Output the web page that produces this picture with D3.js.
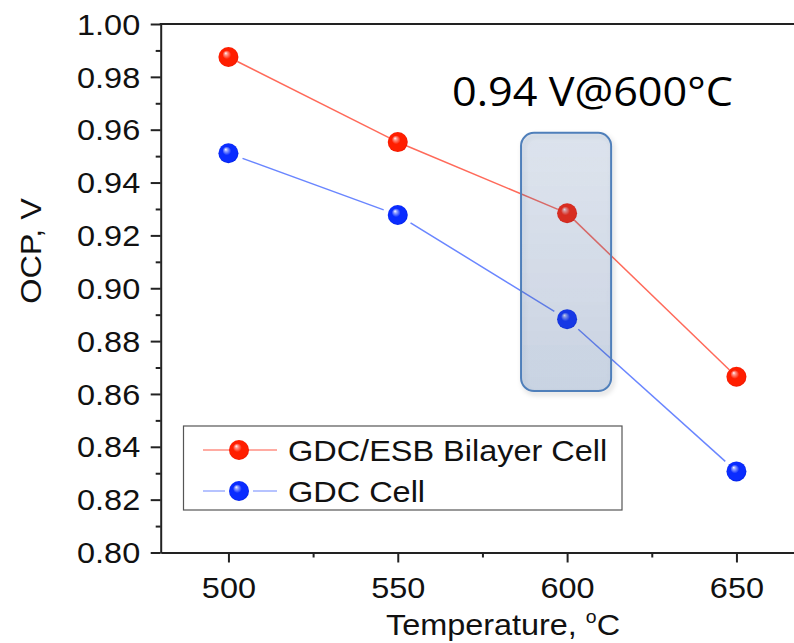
<!DOCTYPE html>
<html>
<head>
<meta charset="utf-8">
<script src="https://cdn.jsdelivr.net/npm/d3@7"></script>
<style>
  html, body { margin: 0; padding: 0; background: #fff; }
  svg { display: block; }
  text { font-family: "Liberation Sans", Arial, sans-serif; fill: #111; }
</style>
</head>
<body>
<svg id="chart" width="794" height="643"></svg>
<script>
// ---- data ----
const temperatures = [500, 550, 600, 650];
const bilayerOCP = [0.9875, 0.9553, 0.9284, 0.8665];
const gdcOCP = [0.9511, 0.9277, 0.8883, 0.8307];
const seriesNames = ["GDC/ESB Bilayer Cell", "GDC Cell"];
const xMajorTicks = [500, 550, 600, 650];
const xMinorTicks = [525, 575, 625];
const yMajorTicks = [0.80, 0.82, 0.84, 0.86, 0.88, 0.90, 0.92, 0.94, 0.96, 0.98, 1.00];
const yMinorTicks = [0.81, 0.83, 0.85, 0.87, 0.89, 0.91, 0.93, 0.95, 0.97, 0.99];
const highlightRange = { x0: 586.4, x1: 613.0, y0: 0.9588, y1: 0.8611 };
const annotation = "0.94 V@600°C";

const svg = d3.select("#chart");
const SX = 1.12;

const x = d3.scaleLinear().domain([480, 670]).range([160.7, 160.7 + 190 * 3.3867]);
const y = d3.scaleLinear().domain([0.80, 1.00]).range([552.5, 24]);

const defs = svg.append("defs");
function sphere(id, base, light, dark) {
  const g = defs.append("radialGradient").attr("id", id)
    .attr("cx", "50%").attr("cy", "50%").attr("r", "52%")
    .attr("fx", "36%").attr("fy", "30%");
  g.append("stop").attr("offset", "0%").attr("stop-color", "#ffffff");
  g.append("stop").attr("offset", "14%").attr("stop-color", light);
  g.append("stop").attr("offset", "42%").attr("stop-color", base);
  g.append("stop").attr("offset", "85%").attr("stop-color", base);
  g.append("stop").attr("offset", "100%").attr("stop-color", dark);
}
sphere("gRed", "#ff1e00", "#ff9a90", "#e81400");
sphere("gBlue", "#0a2cff", "#9aa8ff", "#0020e0");

const boxGrad = defs.append("linearGradient").attr("id", "boxGrad")
  .attr("x1", 0).attr("y1", 0).attr("x2", 0).attr("y2", 1);
boxGrad.append("stop").attr("offset", "0%").attr("stop-color", "rgb(80,115,170)").attr("stop-opacity", 0.16);
boxGrad.append("stop").attr("offset", "100%").attr("stop-color", "rgb(55,95,155)").attr("stop-opacity", 0.23);
const shadow = defs.append("filter").attr("id", "shadow")
  .attr("x", "-20%").attr("y", "-10%").attr("width", "150%").attr("height", "130%");
shadow.append("feDropShadow").attr("dx", 2).attr("dy", 3).attr("stdDeviation", 2.5)
  .attr("flood-color", "#000").attr("flood-opacity", 0.2);

// ---- axes ----
const yAxis = svg.append("g").attr("transform", `translate(${x(480)},0)`)
  .call(d3.axisLeft(y).tickValues(yMajorTicks).tickSize(10).tickSizeOuter(0)
    .tickFormat(d3.format(".2f")));
yAxis.selectAll("text").attr("x", -20.5 / SX).attr("dy", "0.35em")
  .attr("transform", `scale(${SX},1)`).style("font-size", "29px")
  .style("font-family", "'Liberation Sans', Arial, sans-serif");
svg.append("g").attr("transform", `translate(${x(480)},0)`)
  .call(d3.axisLeft(y).tickValues(yMinorTicks).tickSize(5).tickSizeOuter(0).tickFormat(""))
  .select(".domain").remove();

const xAxis = svg.append("g").attr("transform", `translate(0,${y(0.80)})`)
  .call(d3.axisBottom(x).tickValues(xMajorTicks).tickSize(10).tickSizeOuter(0)
    .tickFormat(d3.format("d")));
xAxis.selectAll("text").attr("y", 25).attr("dy", "0.71em")
  .attr("transform", `scale(${SX},1)`).style("font-size", "29px")
  .style("font-family", "'Liberation Sans', Arial, sans-serif");
svg.append("g").attr("transform", `translate(0,${y(0.80)})`)
  .call(d3.axisBottom(x).tickValues(xMinorTicks).tickSize(5).tickSizeOuter(0).tickFormat(""))
  .select(".domain").remove();

svg.selectAll(".domain").attr("stroke", "#222").attr("stroke-width", 2);
svg.selectAll(".tick line").attr("stroke", "#222").attr("stroke-width", 2);

// top frame line
svg.append("line")
  .attr("x1", x(480) - 1).attr("x2", x(670))
  .attr("y1", y(1.00)).attr("y2", y(1.00))
  .attr("stroke", "#222").attr("stroke-width", 2);

// axis titles
const xt = svg.append("text")
  .attr("transform", `translate(386,635) scale(1.08,1)`)
  .style("font-size", "30px");
xt.append("tspan").text("Temperature, ");
xt.append("tspan").text("o").style("font-size", "18px").attr("dy", -12);
xt.append("tspan").text("C").attr("dy", 12);

svg.append("text")
  .attr("transform", `translate(41,251) rotate(-90) scale(1.08,1)`)
  .attr("text-anchor", "middle")
  .style("font-size", "30px")
  .text("OCP, V");

// ---- series ----
const R = 10;
const series = [
  { name: seriesNames[0], values: bilayerOCP, line: "#ff6a5a", grad: "url(#gRed)", gap: 0 },
  { name: seriesNames[1], values: gdcOCP, line: "#6a86ff", grad: "url(#gBlue)", gap: 5 }
];

series.forEach(s => {
  const pts = temperatures.map((t, i) => [x(t), y(s.values[i])]);
  for (let i = 0; i < pts.length - 1; i++) {
    const [x1, y1] = pts[i], [x2, y2] = pts[i + 1];
    const dx = x2 - x1, dy = y2 - y1, L = Math.hypot(dx, dy);
    const off = R + s.gap;
    svg.append("line")
      .attr("x1", x1 + dx / L * off).attr("y1", y1 + dy / L * off)
      .attr("x2", x2 - dx / L * off).attr("y2", y2 - dy / L * off)
      .attr("stroke", s.line).attr("stroke-width", 1.5);
  }
  svg.selectAll(null).data(pts).enter().append("circle")
    .attr("cx", d => d[0]).attr("cy", d => d[1]).attr("r", R)
    .attr("fill", s.grad);
});

// ---- highlight box ----
svg.append("rect")
  .attr("x", x(highlightRange.x0)).attr("y", y(highlightRange.y0))
  .attr("width", x(highlightRange.x1) - x(highlightRange.x0))
  .attr("height", y(highlightRange.y1) - y(highlightRange.y0))
  .attr("rx", 13).attr("ry", 13)
  .attr("fill", "url(#boxGrad)")
  .attr("stroke", "#4f7fba").attr("stroke-width", 2)
  .attr("filter", "url(#shadow)");

svg.append("text")
  .attr("x", 452).attr("y", 106)
  .attr("textLength", 281).attr("lengthAdjust", "spacingAndGlyphs")
  .style("font-family", "'Open Sans', Lato, sans-serif")
  .style("font-size", "41px").style("fill", "#000")
  .text(annotation);

// ---- legend ----
const lg = svg.append("g");
lg.append("rect").attr("x", 183.5).attr("y", 426).attr("width", 438.5).attr("height", 84)
  .attr("fill", "#fff").attr("stroke", "#555").attr("stroke-width", 1.2);
const legendRows = [450, 491];
series.forEach((s, i) => {
  const cy = legendRows[i], cx = 239;
  const gap = s.gap > 0 ? R + 4 : 0;
  if (gap) {
    lg.append("line").attr("x1", 203).attr("x2", cx - gap).attr("y1", cy).attr("y2", cy)
      .attr("stroke", s.line).attr("stroke-width", 1.3).attr("opacity", 0.75);
    lg.append("line").attr("x1", cx + gap).attr("x2", 277).attr("y1", cy).attr("y2", cy)
      .attr("stroke", s.line).attr("stroke-width", 1.3).attr("opacity", 0.75);
  } else {
    lg.append("line").attr("x1", 203).attr("x2", 277).attr("y1", cy).attr("y2", cy)
      .attr("stroke", s.line).attr("stroke-width", 1.3).attr("opacity", 0.75);
  }
  lg.append("circle").attr("cx", cx).attr("cy", cy).attr("r", R).attr("fill", s.grad);
  lg.append("text")
    .attr("transform", `translate(288,${cy + 10.5}) scale(${SX},1)`)
    .style("font-size", "29px")
    .text(s.name);
});
</script>
</body>
</html>
